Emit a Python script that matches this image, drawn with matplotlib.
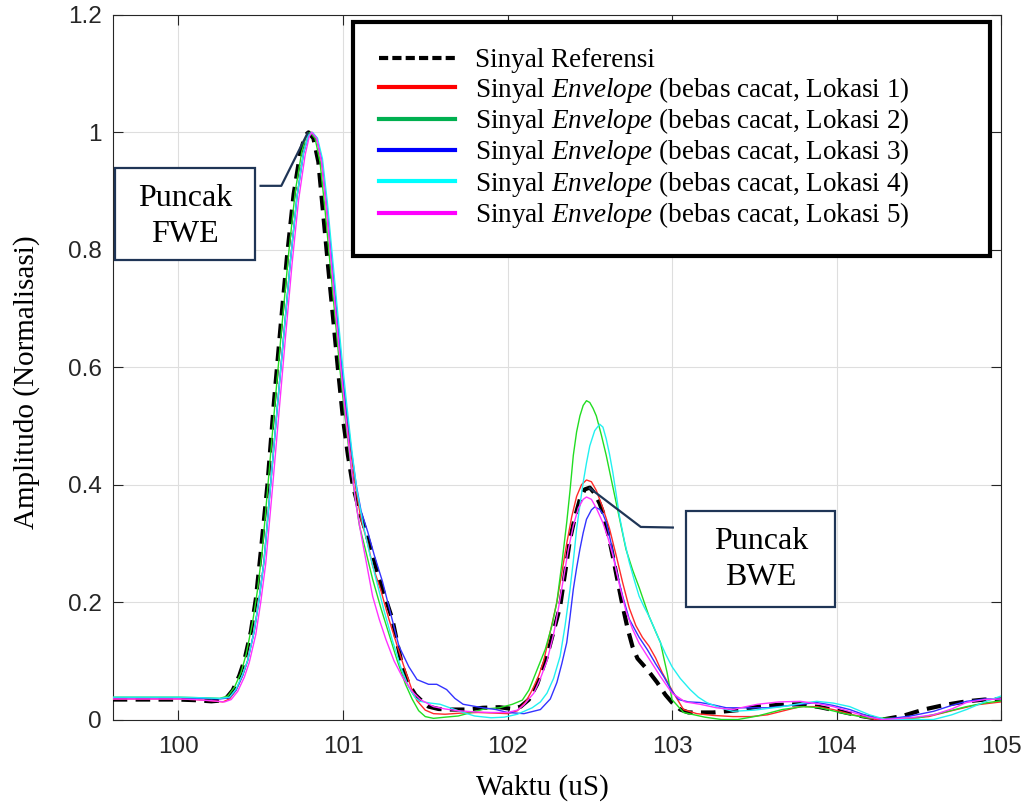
import matplotlib
matplotlib.use("Agg")
import matplotlib.pyplot as plt
from matplotlib.lines import Line2D
from matplotlib.patches import Rectangle

plt.rcParams['font.family'] = ['Liberation Serif', 'DejaVu Serif']
plt.rcParams['mathtext.fontset'] = 'custom'
plt.rcParams['mathtext.rm'] = 'Liberation Serif'
plt.rcParams['mathtext.it'] = 'Liberation Serif:italic'

# (waktu, amplitudo)
ref_pts = [(99.6, 0.034), (99.8, 0.034), (100.0, 0.034), (100.1, 0.033), (100.2, 0.031), (100.28, 0.033),
           (100.33, 0.05), (100.37, 0.075), (100.40, 0.10), (100.44, 0.15), (100.47, 0.205), (100.50, 0.285),
           (100.54, 0.398), (100.58, 0.54), (100.62, 0.668), (100.66, 0.79), (100.70, 0.895), (100.74, 0.965),
           (100.77, 0.995), (100.79, 1.0), (100.82, 0.99), (100.85, 0.95), (100.88, 0.86), (100.91, 0.77),
           (100.94, 0.683), (100.97, 0.595), (101.0, 0.512), (101.03, 0.45), (101.06, 0.398), (101.10, 0.355),
           (101.14, 0.319), (101.18, 0.28), (101.22, 0.239), (101.26, 0.205), (101.30, 0.171), (101.33, 0.13),
           (101.36, 0.091), (101.40, 0.06), (101.44, 0.042), (101.47, 0.034), (101.52, 0.022), (101.58, 0.018),
           (101.65, 0.017), (101.75, 0.017), (101.85, 0.02), (101.95, 0.021), (102.03, 0.018), (102.08, 0.022),
           (102.13, 0.034), (102.18, 0.06), (102.24, 0.108), (102.28, 0.15), (102.32, 0.193), (102.35, 0.25),
           (102.38, 0.307), (102.41, 0.345), (102.44, 0.375), (102.47, 0.392), (102.50, 0.395), (102.53, 0.385),
           (102.56, 0.368), (102.58, 0.353), (102.61, 0.318), (102.64, 0.278), (102.67, 0.235), (102.70, 0.193),
           (102.73, 0.155), (102.76, 0.124), (102.79, 0.104), (102.85, 0.085), (102.91, 0.063), (102.96, 0.042),
           (103.0, 0.029), (103.05, 0.017), (103.10, 0.012), (103.25, 0.012), (103.4, 0.016), (103.52, 0.022),
           (103.65, 0.025), (103.78, 0.026), (103.9, 0.021), (104.02, 0.014), (104.15, 0.006), (104.28, 0.0),
           (104.4, 0.006), (104.53, 0.017), (104.66, 0.025), (104.79, 0.031), (104.9, 0.034), (105.0, 0.034)]

lok1_pts = [(99.6, 0.035), (99.8, 0.035), (100.0, 0.035), (100.1, 0.034), (100.2, 0.032), (100.27, 0.03),
            (100.31, 0.035), (100.35, 0.05), (100.39, 0.075), (100.42, 0.10), (100.46, 0.15), (100.49, 0.205),
            (100.52, 0.27), (100.56, 0.40), (100.60, 0.53), (100.64, 0.655), (100.68, 0.78), (100.72, 0.89),
            (100.76, 0.965), (100.79, 0.995), (100.81, 1.0), (100.84, 0.99), (100.87, 0.95), (100.90, 0.87),
            (100.93, 0.78), (100.96, 0.69), (100.99, 0.60), (101.02, 0.52), (101.05, 0.45), (101.08, 0.39),
            (101.11, 0.34), (101.15, 0.30), (101.18, 0.262), (101.23, 0.22), (101.28, 0.17), (101.33, 0.125),
            (101.38, 0.082), (101.42, 0.05), (101.45, 0.032), (101.50, 0.016), (101.55, 0.01), (101.62, 0.009),
            (101.72, 0.011), (101.82, 0.012), (101.92, 0.011), (102.0, 0.01), (102.06, 0.015), (102.11, 0.03),
            (102.15, 0.05), (102.19, 0.075), (102.22, 0.10), (102.26, 0.15), (102.30, 0.2), (102.33, 0.25),
            (102.36, 0.30), (102.39, 0.345), (102.42, 0.38), (102.45, 0.40), (102.48, 0.408), (102.51, 0.405),
            (102.54, 0.39), (102.58, 0.36), (102.62, 0.325), (102.66, 0.28), (102.70, 0.233), (102.74, 0.19),
            (102.78, 0.16), (102.82, 0.14), (102.86, 0.125), (102.90, 0.105), (102.94, 0.08), (102.98, 0.06),
            (103.02, 0.04), (103.07, 0.017), (103.15, 0.01), (103.25, 0.007), (103.37, 0.005), (103.48, 0.005),
            (103.58, 0.008), (103.68, 0.015), (103.78, 0.022), (103.88, 0.022), (103.98, 0.017), (104.1, 0.008),
            (104.24, 0.0), (104.4, 0.001), (104.56, 0.005), (104.7, 0.015), (104.85, 0.025), (105.0, 0.03)]

lok2_pts = [(99.6, 0.038), (99.8, 0.038), (100.0, 0.038), (100.15, 0.037), (100.25, 0.036), (100.3, 0.04),
            (100.34, 0.055), (100.38, 0.08), (100.41, 0.11), (100.45, 0.165), (100.48, 0.22), (100.51, 0.29),
            (100.55, 0.42), (100.59, 0.55), (100.63, 0.675), (100.67, 0.795), (100.71, 0.9), (100.75, 0.968),
            (100.78, 0.996), (100.80, 1.0), (100.83, 0.99), (100.86, 0.95), (100.89, 0.87), (100.92, 0.78),
            (100.95, 0.69), (100.98, 0.60), (101.01, 0.52), (101.04, 0.45), (101.07, 0.385), (101.10, 0.33),
            (101.14, 0.285), (101.18, 0.239), (101.23, 0.19), (101.28, 0.145), (101.33, 0.1), (101.38, 0.06),
            (101.42, 0.035), (101.46, 0.015), (101.50, 0.005), (101.55, 0.002), (101.62, 0.004), (101.70, 0.006),
            (101.78, 0.012), (101.86, 0.018), (101.95, 0.02), (102.03, 0.026), (102.09, 0.033), (102.13, 0.05),
            (102.18, 0.085), (102.23, 0.12), (102.27, 0.16), (102.30, 0.2), (102.33, 0.265), (102.36, 0.336),
            (102.38, 0.39), (102.40, 0.45), (102.42, 0.49), (102.44, 0.517), (102.46, 0.535), (102.48, 0.543),
            (102.50, 0.54), (102.52, 0.53), (102.54, 0.517), (102.57, 0.485), (102.60, 0.45), (102.63, 0.41),
            (102.66, 0.37), (102.69, 0.33), (102.72, 0.29), (102.76, 0.255), (102.80, 0.225), (102.86, 0.176),
            (102.90, 0.15), (102.93, 0.131), (102.95, 0.105), (102.97, 0.08), (103.0, 0.034), (103.07, 0.012),
            (103.2, 0.004), (103.3, 0.0), (103.4, 0.0), (103.52, 0.006), (103.67, 0.017), (103.8, 0.022),
            (103.9, 0.02), (104.05, 0.01), (104.18, 0.003), (104.35, 0.002), (104.5, 0.003), (104.65, 0.012),
            (104.79, 0.022), (104.9, 0.028), (105.0, 0.032)]

lok3_pts = [(99.6, 0.037), (99.8, 0.037), (100.0, 0.037), (100.15, 0.036), (100.25, 0.035), (100.31, 0.037),
            (100.35, 0.05), (100.39, 0.075), (100.42, 0.10), (100.46, 0.15), (100.49, 0.205), (100.52, 0.27),
            (100.56, 0.40), (100.60, 0.53), (100.64, 0.655), (100.68, 0.78), (100.72, 0.89), (100.76, 0.965),
            (100.79, 0.995), (100.81, 1.0), (100.84, 0.99), (100.87, 0.955), (100.90, 0.88), (100.93, 0.79),
            (100.96, 0.70), (100.99, 0.61), (101.02, 0.53), (101.05, 0.46), (101.08, 0.40), (101.11, 0.355),
            (101.15, 0.32), (101.19, 0.28), (101.24, 0.235), (101.29, 0.18), (101.34, 0.125), (101.40, 0.09),
            (101.45, 0.068), (101.52, 0.06), (101.57, 0.06), (101.63, 0.051), (101.68, 0.036), (101.73, 0.026),
            (101.85, 0.02), (101.93, 0.017), (102.0, 0.012), (102.1, 0.01), (102.2, 0.017), (102.26, 0.035),
            (102.30, 0.063), (102.33, 0.095), (102.36, 0.131), (102.38, 0.175), (102.40, 0.222), (102.42, 0.258),
            (102.44, 0.29), (102.46, 0.318), (102.48, 0.341), (102.51, 0.357), (102.53, 0.362), (102.56, 0.358),
            (102.58, 0.35), (102.60, 0.336), (102.63, 0.30), (102.66, 0.256), (102.70, 0.21), (102.74, 0.171),
            (102.80, 0.14), (102.85, 0.119), (102.90, 0.095), (102.95, 0.073), (103.0, 0.048), (103.04, 0.034),
            (103.1, 0.03), (103.17, 0.029), (103.25, 0.025), (103.33, 0.02), (103.45, 0.02), (103.58, 0.02),
            (103.72, 0.024), (103.88, 0.029), (103.98, 0.024), (104.08, 0.017), (104.18, 0.007), (104.28, 0.0),
            (104.45, 0.006), (104.59, 0.014), (104.7, 0.024), (104.79, 0.031), (104.9, 0.035), (105.0, 0.035)]

lok4_pts = [(99.6, 0.038), (99.8, 0.038), (100.0, 0.038), (100.15, 0.037), (100.25, 0.036), (100.31, 0.038),
            (100.35, 0.052), (100.39, 0.077), (100.42, 0.10), (100.46, 0.15), (100.49, 0.205), (100.52, 0.27),
            (100.56, 0.40), (100.60, 0.53), (100.64, 0.655), (100.68, 0.78), (100.72, 0.89), (100.76, 0.965),
            (100.79, 0.995), (100.815, 1.0), (100.845, 0.99), (100.875, 0.955), (100.905, 0.88), (100.935, 0.79),
            (100.965, 0.70), (100.995, 0.61), (101.025, 0.53), (101.055, 0.455), (101.085, 0.39), (101.12, 0.335),
            (101.16, 0.285), (101.20, 0.24), (101.25, 0.185), (101.30, 0.135), (101.35, 0.09), (101.40, 0.055),
            (101.44, 0.037), (101.47, 0.031), (101.53, 0.028), (101.59, 0.026), (101.65, 0.02), (101.72, 0.013),
            (101.8, 0.006), (101.9, 0.003), (101.98, 0.004), (102.06, 0.009), (102.15, 0.02), (102.2, 0.03),
            (102.24, 0.045), (102.28, 0.07), (102.32, 0.108), (102.35, 0.16), (102.38, 0.222), (102.40, 0.27),
            (102.42, 0.324), (102.44, 0.365), (102.46, 0.404), (102.48, 0.437), (102.50, 0.466), (102.53, 0.492),
            (102.56, 0.503), (102.58, 0.498), (102.60, 0.478), (102.62, 0.452), (102.64, 0.421), (102.66, 0.385),
            (102.68, 0.347), (102.71, 0.305), (102.74, 0.268), (102.77, 0.238), (102.80, 0.21), (102.83, 0.192),
            (102.86, 0.176), (102.89, 0.157), (102.92, 0.137), (102.96, 0.112), (103.0, 0.09), (103.05, 0.07),
            (103.11, 0.051), (103.16, 0.038), (103.21, 0.029), (103.29, 0.02), (103.37, 0.014), (103.5, 0.016),
            (103.67, 0.022), (103.8, 0.028), (103.88, 0.031), (103.98, 0.028), (104.08, 0.022), (104.2, 0.008),
            (104.3, 0.0), (104.45, 0.0), (104.59, 0.0), (104.7, 0.008), (104.79, 0.017), (104.9, 0.03), (105.0, 0.04)]

lok5_pts = [(99.6, 0.035), (99.8, 0.035), (100.0, 0.035), (100.1, 0.034), (100.2, 0.032), (100.28, 0.03),
            (100.32, 0.034), (100.36, 0.048), (100.40, 0.072), (100.43, 0.097), (100.47, 0.145), (100.50, 0.2),
            (100.53, 0.265), (100.57, 0.39), (100.61, 0.52), (100.65, 0.65), (100.69, 0.775), (100.73, 0.885),
            (100.77, 0.962), (100.795, 0.993), (100.81, 1.0), (100.84, 0.99), (100.87, 0.95), (100.90, 0.87),
            (100.93, 0.775), (100.96, 0.68), (100.99, 0.59), (101.02, 0.505), (101.05, 0.43), (101.08, 0.365),
            (101.11, 0.315), (101.15, 0.255), (101.18, 0.21), (101.22, 0.171), (101.26, 0.137), (101.31, 0.1),
            (101.36, 0.073), (101.42, 0.048), (101.47, 0.034), (101.55, 0.022), (101.62, 0.018), (101.7, 0.015),
            (101.8, 0.013), (101.9, 0.012), (102.0, 0.012), (102.06, 0.016), (102.1, 0.025), (102.16, 0.045),
            (102.2, 0.07), (102.24, 0.10), (102.28, 0.145), (102.31, 0.19), (102.34, 0.24), (102.37, 0.29),
            (102.40, 0.33), (102.43, 0.36), (102.46, 0.375), (102.48, 0.379), (102.51, 0.375), (102.54, 0.36),
            (102.58, 0.335), (102.61, 0.31), (102.64, 0.28), (102.68, 0.23), (102.72, 0.185), (102.76, 0.154),
            (102.80, 0.13), (102.85, 0.108), (102.93, 0.073), (103.0, 0.045), (103.08, 0.03), (103.17, 0.026),
            (103.27, 0.02), (103.37, 0.017), (103.45, 0.022), (103.52, 0.026), (103.65, 0.03), (103.78, 0.031),
            (103.88, 0.027), (103.98, 0.022), (104.1, 0.012), (104.2, 0.004), (104.28, 0.0), (104.45, 0.003),
            (104.59, 0.008), (104.7, 0.018), (104.79, 0.029), (104.9, 0.034), (105.0, 0.035)]

env_series = [lok1_pts, lok2_pts, lok3_pts, lok4_pts, lok5_pts]
line_colors = ['#ff2a2a', '#22dd22', '#3333ff', '#22f0f0', '#ff33ff']
legend_colors = ['#ff0000', '#00b050', '#0000ff', '#00ffff', '#ff00ff']
labels = ['Sinyal Referensi'] + [
    r'Sinyal $\mathit{Envelope}$ (bebas cacat, Lokasi %d)' % i for i in range(1, 6)]

xticks = [100, 101, 102, 103, 104, 105]
yticks = [0, 0.2, 0.4, 0.6, 0.8, 1.0, 1.2]
ytick_labels = ['0', '0.2', '0.4', '0.6', '0.8', '1', '1.2']

fig = plt.figure(figsize=(10.32, 8.09), dpi=100)
ax = fig.add_axes([0.1092, 0.1106, 0.8608, 0.8709])

rx, ry = zip(*ref_pts)
ax.plot(rx, ry, color='black', lw=3.0, dashes=(3.5, 2.0), zorder=3)
for pts, c in zip(env_series, line_colors):
    xs, ys = zip(*pts)
    ax.plot(xs, ys, color=c, lw=1.0, zorder=4)

ax.set_xlim(99.6, 105)
ax.set_ylim(0, 1.2)
ax.set_xticks(xticks)
ax.set_yticks(yticks)
ax.set_yticklabels(ytick_labels)
ax.grid(True, color='#dedede', lw=0.8)
ax.set_axisbelow(True)
ax.tick_params(direction='in', length=7, width=0.8, top=True, right=True,
               colors='#262626', labelsize=17.5)
ax.tick_params(axis='x', pad=12)
ax.tick_params(axis='y', pad=8)
for lab in ax.get_xticklabels() + ax.get_yticklabels():
    lab.set_fontfamily('Liberation Sans')
for sp in ax.spines.values():
    sp.set_color('#262626')
    sp.set_linewidth(0.8)

ax.set_xlabel('Waktu (uS)', fontsize=21)
ax.set_ylabel('Amplitudo (Normalisasi)', fontsize=21)
ax.xaxis.set_label_coords(0.484, -0.077)
ax.yaxis.set_label_coords(-0.082, 0.479)

# annotation boxes
box_color = '#1f3556'
ax.add_patch(Rectangle((99.617, 0.782), 0.845, 0.158, facecolor='white',
                       edgecolor=box_color, lw=1.6, zorder=6))
ax.text(100.04, 0.857, 'Puncak\nFWE', ha='center', va='center', fontsize=23,
        linespacing=1.32, zorder=7)
ax.plot([100.499, 100.625, 100.785], [0.909, 0.909, 0.999], color=box_color, lw=1.6, zorder=6)

ax.add_patch(Rectangle((103.084, 0.192), 0.906, 0.164, facecolor='white',
                       edgecolor=box_color, lw=1.6, zorder=6))
ax.text(103.54, 0.272, 'Puncak\nBWE', ha='center', va='center', fontsize=23,
        linespacing=1.32, zorder=7)
ax.plot([103.005, 102.81, 102.50], [0.327, 0.328, 0.394], color=box_color, lw=1.6, zorder=6)

handles = [Line2D([], [], color='black', lw=3.0, dashes=(2.2, 1.0))]
handles += [Line2D([], [], color=c, lw=3.0) for c in legend_colors]
leg = ax.legend(handles, labels, loc='upper left', bbox_to_anchor=(0.2705, 0.6664, 0.7171, 0.3236),
                mode='expand', fontsize=19.5, handlelength=2.8, handletextpad=0.75,
                labelspacing=0.055, borderpad=0.96, borderaxespad=0, fancybox=False,
                framealpha=1, edgecolor='black')
leg.get_frame().set_linewidth(3.0)
leg.set_zorder(8)

fig.savefig('out.png', dpi=100)
